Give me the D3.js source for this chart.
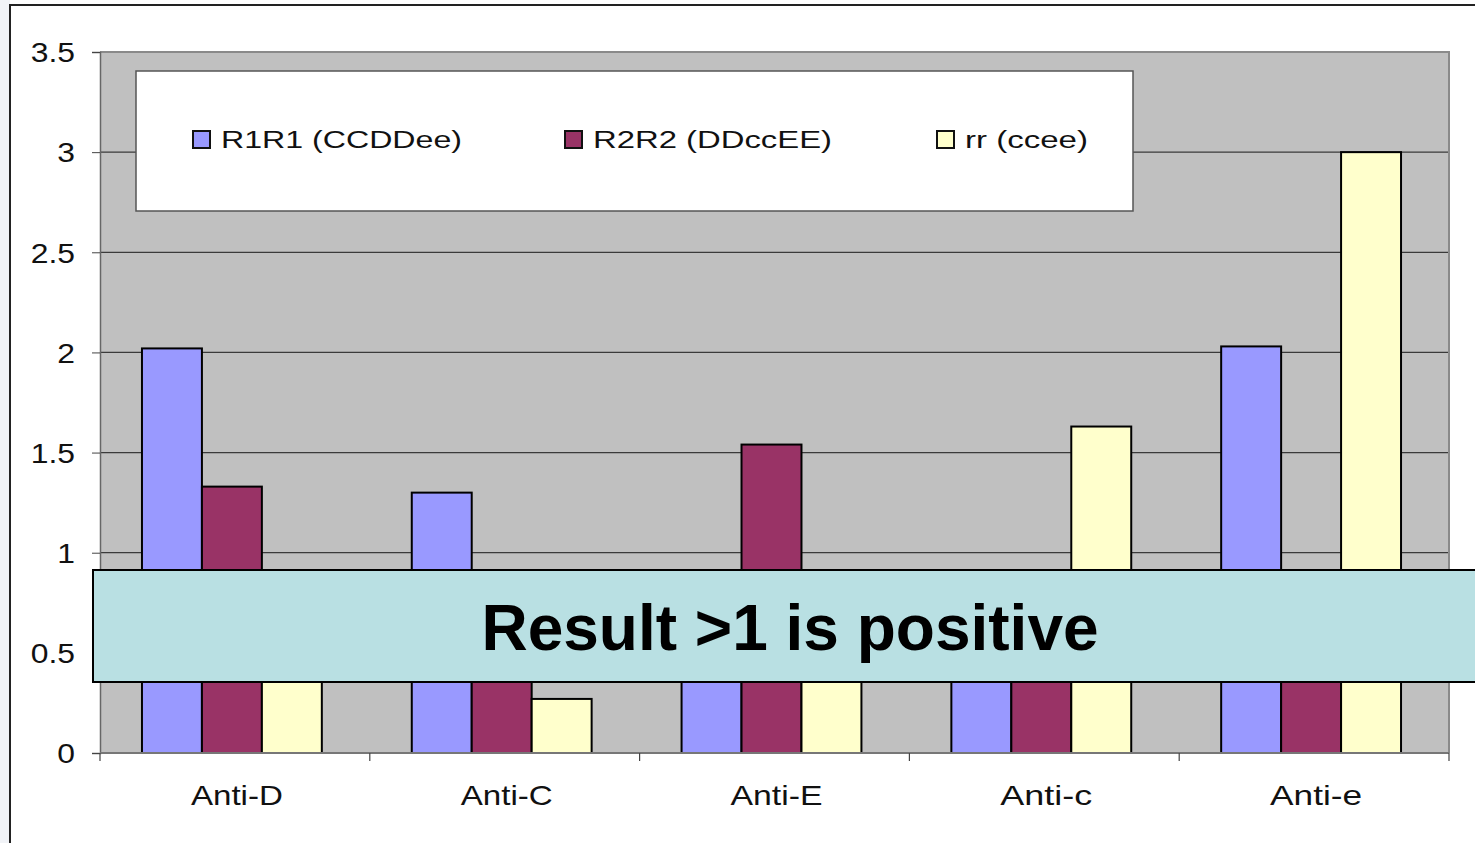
<!DOCTYPE html>
<html>
<head>
<meta charset="utf-8">
<script src="https://cdn.jsdelivr.net/npm/d3@7/dist/d3.min.js"></script>
<style>
  html, body { margin: 0; padding: 0; background: #fff; }
  svg { display: block; font-family: "Liberation Sans", Arial, sans-serif; }
</style>
</head>
<body>
<div id="chart"></div>
<script>
// Data
const categories = ["Anti-D", "Anti-C", "Anti-E", "Anti-c", "Anti-e"];
const seriesNames = ["R1R1 (CCDDee)", "R2R2 (DDccEE)", "rr (ccee)"];
const r1r1 = [2.02, 1.30, 0.60, 0.70, 2.03];
const r2r2 = [1.33, 0.80, 1.54, 0.85, 0.88];
const rr = [0.70, 0.27, 0.75, 1.63, 3.00];
const yTicks = [0, 0.5, 1, 1.5, 2, 2.5, 3, 3.5];
const colors = ["#9999ff", "#993366", "#ffffcc"];

const width = 1475, height = 843;
const plot = { left: 100, right: 1449, top: 52, bottom: 753 };

const svg = d3.select("#chart").append("svg")
    .attr("width", width)
    .attr("height", height);

// faint slide edge
svg.append("rect").attr("x", 0).attr("y", 0).attr("width", 10).attr("height", height).attr("fill", "#f1f3f7");

// outer chart frame
svg.append("path")
    .attr("d", `M10,${height} L10,5 L${width},5`)
    .attr("fill", "none")
    .attr("stroke", "#222")
    .attr("stroke-width", 2);

const x = d3.scaleBand().domain(categories).range([plot.left, plot.right]);
const xSub = d3.scaleBand().domain(seriesNames).range([-3, x.bandwidth() - 3])
    .paddingInner(0).paddingOuter(0.75);
const y = d3.scaleLinear().domain([0, 3.5]).range([plot.bottom, plot.top]);

// plot background
svg.append("rect")
    .attr("x", plot.left).attr("y", plot.top)
    .attr("width", plot.right - plot.left).attr("height", plot.bottom - plot.top)
    .attr("fill", "#c0c0c0");

// gridlines
svg.append("g").selectAll("line")
    .data(yTicks.filter(d => d > 0 && d < 3.5))
    .join("line")
    .attr("x1", plot.left).attr("x2", plot.right)
    .attr("y1", d => y(d)).attr("y2", d => y(d))
    .attr("stroke", "#3a3a3a").attr("stroke-width", 1.2);

// plot border top/right
svg.append("path")
    .attr("d", `M${plot.left},${plot.top} L${plot.right},${plot.top} L${plot.right},${plot.bottom}`)
    .attr("fill", "none").attr("stroke", "#8a8a8a").attr("stroke-width", 2);

// bars
const series = [r1r1, r2r2, rr];
const bars = [];
series.forEach((vals, si) => {
    vals.forEach((v, ci) => bars.push({ cat: categories[ci], s: seriesNames[si], si, v }));
});
svg.append("g").selectAll("rect")
    .data(bars)
    .join("rect")
    .attr("x", d => x(d.cat) + xSub(d.s))
    .attr("y", d => y(d.v))
    .attr("width", xSub.bandwidth())
    .attr("height", d => y(0) - y(d.v))
    .attr("fill", d => colors[d.si])
    .attr("stroke", "#000")
    .attr("stroke-width", 2);

// y axis
const yAxis = svg.append("g")
    .attr("transform", `translate(${plot.left},0)`)
    .call(d3.axisLeft(y).tickValues(yTicks).tickSize(8).tickFormat(d3.format("")));
yAxis.select(".domain").attr("stroke", "#666").attr("stroke-width", 1.5);
yAxis.selectAll(".tick line").attr("stroke", "#444");
yAxis.selectAll(".tick text")
    .attr("dy", "0.36em")
    .attr("fill", "#111")
    .style("font-size", "27px")
    .attr("transform", "scale(1.18,1)")
    .attr("x", -25 / 1.18);

// x axis
const xAxis = svg.append("g")
    .attr("transform", `translate(0,${plot.bottom})`);
xAxis.append("line")
    .attr("x1", plot.left).attr("x2", plot.right)
    .attr("stroke", "#777").attr("stroke-width", 2);
xAxis.selectAll(".xtick")
    .data(categories.concat(["end"]))
    .join("line")
    .attr("x1", (d, i) => i < categories.length ? x(d) : plot.right)
    .attr("x2", (d, i) => i < categories.length ? x(d) : plot.right)
    .attr("y1", 0).attr("y2", 8)
    .attr("stroke", "#444").attr("stroke-width", 1.2);
xAxis.selectAll(".xlabel")
    .data(categories)
    .join("text")
    .attr("x", d => x(d) + x.bandwidth() / 2 + 2)
    .attr("y", 52)
    .attr("text-anchor", "middle")
    .attr("fill", "#111")
    .style("font-size", "28px")
    .attr("textLength", 92)
    .attr("lengthAdjust", "spacingAndGlyphs")
    .text(d => d);

// legend
const legend = svg.append("g");
legend.append("rect")
    .attr("x", 136).attr("y", 71).attr("width", 997).attr("height", 140)
    .attr("fill", "#fff").attr("stroke", "#555").attr("stroke-width", 1.5);
const legendX = [193, 565, 937];
const legendW = [241, 239, 123];
const li = legend.selectAll(".li")
    .data(seriesNames)
    .join("g")
    .attr("transform", (d, i) => `translate(${legendX[i]},131)`);
li.append("rect")
    .attr("width", 17).attr("height", 17)
    .attr("fill", (d, i) => colors[i])
    .attr("stroke", "#111").attr("stroke-width", 2);
li.append("text")
    .attr("x", 28).attr("y", 17)
    .attr("fill", "#111")
    .style("font-size", "23px")
    .attr("textLength", (d, i) => legendW[i])
    .attr("lengthAdjust", "spacingAndGlyphs")
    .text(d => d);

// overlay note
const note = svg.append("g");
note.append("rect")
    .attr("x", 93).attr("y", 570).attr("width", 1400).attr("height", 112)
    .attr("fill", "#b9e0e3").attr("stroke", "#000").attr("stroke-width", 2);
note.append("text")
    .attr("x", 790).attr("y", 650)
    .attr("text-anchor", "middle")
    .attr("fill", "#000")
    .style("font-size", "64px")
    .style("font-weight", "bold")
    .text("Result >1 is positive");
</script>
</body>
</html>
